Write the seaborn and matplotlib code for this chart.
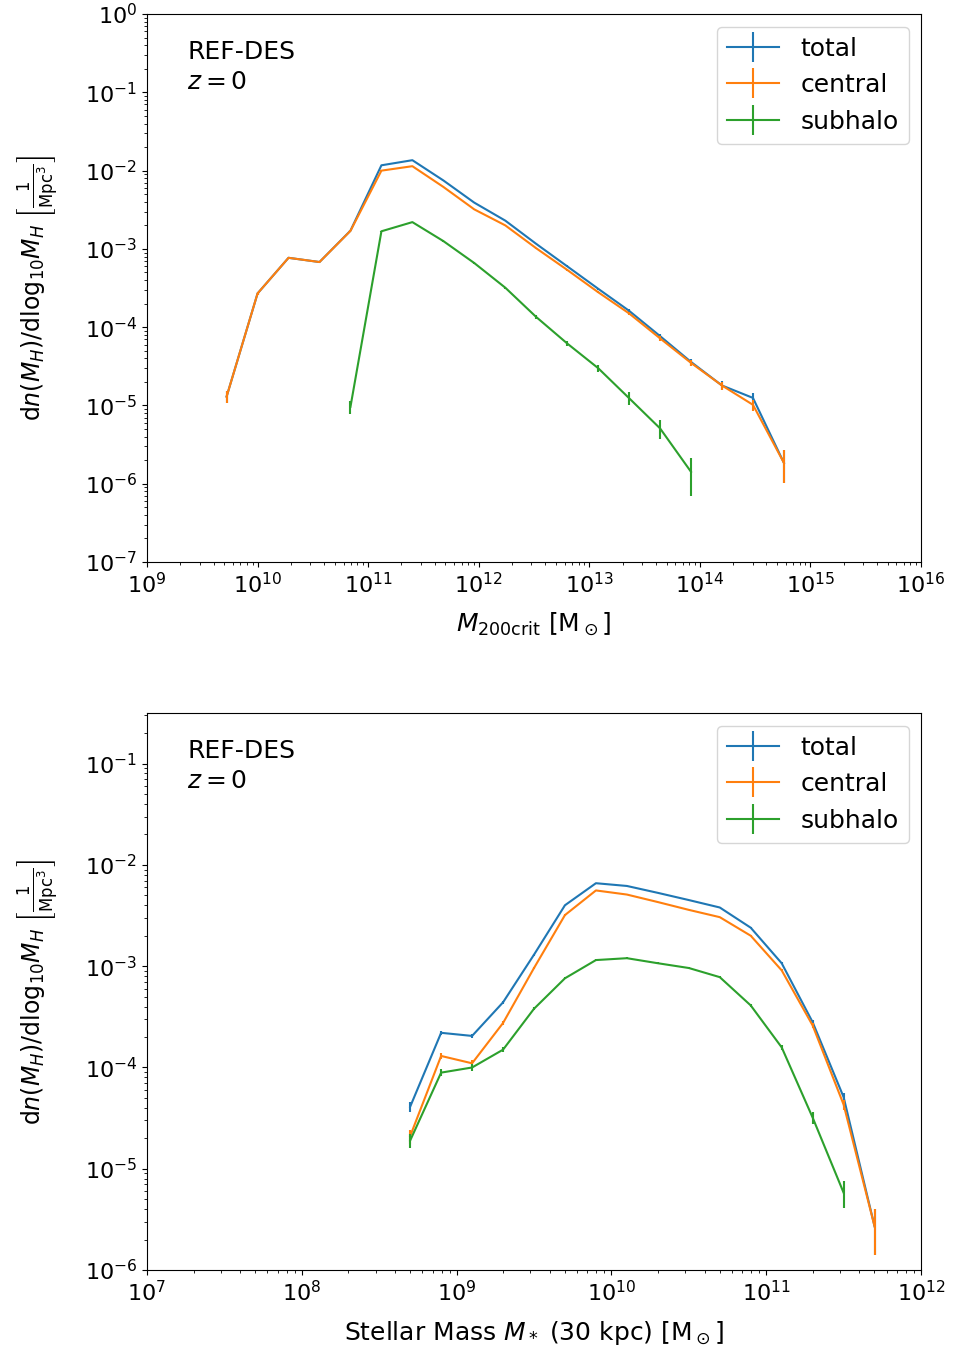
import numpy as np
import pandas as pd
import matplotlib
matplotlib.use("Agg")
import matplotlib.pyplot as plt
from matplotlib.lines import Line2D
import seaborn as sns

# ---- halo mass function (top panel) ----
halo_logm = [9.72, 10.00, 10.28, 10.56, 10.84, 11.12, 11.40, 11.68, 11.96, 12.24,
             12.52, 12.80, 13.08, 13.36, 13.64, 13.92, 14.20, 14.48, 14.76]
halo_total = [1.3e-5, 2.7e-4, 7.7e-4, 6.8e-4, 1.71e-3, 1.17e-2, 1.36e-2, 7.5e-3, 3.9e-3, 2.3e-3,
              1.16e-3, 6.0e-4, 3.1e-4, 1.62e-4, 7.7e-5, 3.6e-5, 1.8e-5, 1.25e-5, 1.85e-6]
halo_total_err = [2.2e-6, 1.0e-5, 1.7e-5, 1.6e-5, 2.5e-5, 6.6e-5, 7.1e-5, 5.3e-5, 3.8e-5, 2.9e-5,
                  2.1e-5, 1.5e-5, 1.1e-5, 7.8e-6, 5.3e-6, 3.7e-6, 2.4e-6, 2.0e-6, 8.3e-7]
halo_central = [1.3e-5, 2.7e-4, 7.7e-4, 6.8e-4, 1.7e-3, 1.0e-2, 1.14e-2, 6.2e-3, 3.2e-3, 2.0e-3,
                1.02e-3, 5.4e-4, 2.8e-4, 1.5e-4, 7.2e-5, 3.5e-5, 1.8e-5, 1.02e-5, 1.85e-6]
halo_central_err = [2.2e-6, 1.0e-5, 1.7e-5, 1.6e-5, 2.5e-5, 6.1e-5, 6.5e-5, 4.8e-5, 3.4e-5, 2.7e-5,
                    1.9e-5, 1.4e-5, 1.0e-5, 7.5e-6, 5.2e-6, 3.4e-6, 2.2e-6, 1.6e-6, 8.3e-7]
halo_sub_logm = [10.84, 11.12, 11.40, 11.68, 11.96, 12.24, 12.52, 12.80, 13.08, 13.36, 13.64, 13.92]
halo_sub = [9.6e-6, 1.68e-3, 2.2e-3, 1.26e-3, 6.6e-4, 3.2e-4, 1.35e-4, 6.2e-5, 3.0e-5, 1.24e-5,
            5.1e-6, 1.42e-6]
halo_sub_err = [1.9e-6, 2.5e-5, 2.9e-5, 2.2e-5, 1.6e-5, 1.1e-5, 7.1e-6, 4.8e-6, 3.3e-6, 2.3e-6,
                1.4e-6, 7.3e-7]

# ---- stellar mass function (bottom panel) ----
star_logm = [8.7, 8.9, 9.1, 9.3, 9.5, 9.7, 9.9, 10.1, 10.3, 10.5, 10.7, 10.9, 11.1, 11.3, 11.5, 11.7]
star_total = [4.1e-5, 2.2e-4, 2.05e-4, 4.4e-4, 1.3e-3, 4.0e-3, 6.6e-3, 6.2e-3, 5.3e-3, 4.5e-3,
              3.8e-3, 2.4e-3, 1.07e-3, 2.8e-4, 5.1e-5, 2.7e-6]
star_total_err = [4.6e-6, 1.07e-5, 1.03e-5, 1.5e-5, 2.6e-5, 4.6e-5, 5.8e-5, 5.7e-5, 5.2e-5, 4.8e-5,
                  4.4e-5, 3.5e-5, 2.4e-5, 1.2e-5, 5.1e-6, 1.3e-6]
star_central = [2.1e-5, 1.3e-4, 1.1e-4, 2.75e-4, 9.6e-4, 3.2e-3, 5.6e-3, 5.1e-3, 4.3e-3, 3.6e-3,
                3.05e-3, 2.0e-3, 9.1e-4, 2.6e-4, 4.3e-5, 2.7e-6]
star_central_err = [3.3e-6, 8.2e-6, 7.6e-6, 1.2e-5, 2.2e-5, 4.1e-5, 5.4e-5, 5.1e-5, 4.7e-5, 4.3e-5,
                    4.0e-5, 3.2e-5, 2.2e-5, 1.2e-5, 4.7e-6, 1.3e-6]
star_sub_logm = [8.7, 8.9, 9.1, 9.3, 9.5, 9.7, 9.9, 10.1, 10.3, 10.5, 10.7, 10.9, 11.1, 11.3, 11.5]
star_sub = [1.9e-5, 8.9e-5, 1.0e-4, 1.5e-4, 3.8e-4, 7.6e-4, 1.15e-3, 1.2e-3, 1.07e-3, 9.6e-4,
            7.8e-4, 4.1e-4, 1.58e-4, 3.2e-5, 5.8e-6]
star_sub_err = [3.1e-6, 6.8e-6, 7.2e-6, 8.8e-6, 1.4e-5, 2.0e-5, 2.4e-5, 2.5e-5, 2.4e-5, 2.2e-5,
                2.0e-5, 1.5e-5, 9.1e-6, 4.1e-6, 1.7e-6]

labels = ["total", "central", "subhalo"]
colors = sns.color_palette("tab10", 3)

plt.rcParams["font.family"] = ["DejaVu Sans"]
plt.rcParams["font.size"] = 16
plt.rcParams["mathtext.fontset"] = "dejavusans"

LABEL_SIZE = 18

fig = plt.figure(figsize=(9.57, 13.54), dpi=100)
ax_top = fig.add_axes([0.1536, 0.5849, 0.8088, 0.4047])
ax_bot = fig.add_axes([0.1536, 0.0620, 0.8088, 0.4114])


def draw_series(ax, logm, vals, errs, color):
    df = pd.DataFrame({"mass": 10.0 ** np.asarray(logm), "phi": vals, "err": errs})
    sns.lineplot(data=df, x="mass", y="phi", ax=ax, color=color, linewidth=1.5,
                 estimator=None, sort=False, legend=False)
    ax.errorbar(df["mass"], df["phi"], yerr=df["err"], fmt="none",
                ecolor=color, elinewidth=1.5)


def finish_axes(ax, xlim, ylim, xlabel):
    ax.set_xscale("log")
    ax.set_yscale("log")
    ax.set_xlim(*xlim)
    ax.set_ylim(*ylim)
    ax.tick_params(labelsize=16)
    ax.set_xlabel(xlabel, fontsize=LABEL_SIZE, labelpad=10)
    ax.set_ylabel(r"d$n(M_H)$/dlog$_{10}M_H$ $\left[\frac{1}{\mathrm{Mpc}^3}\right]$",
                  fontsize=17, labelpad=18)
    ax.text(0.052, 0.953, "REF-DES\n$z = 0$", transform=ax.transAxes,
            ha="left", va="top", fontsize=LABEL_SIZE, linespacing=1.3)
    handles = [Line2D([], [], color=c, linewidth=1.5, marker="|", markersize=22,
                      markeredgewidth=1.5) for c in colors]
    ax.legend(handles, labels, loc="upper right", fontsize=LABEL_SIZE,
              handlelength=2.1, handletextpad=0.85, labelspacing=0.5)


top_sets = [(halo_logm, halo_total, halo_total_err),
            (halo_logm, halo_central, halo_central_err),
            (halo_sub_logm, halo_sub, halo_sub_err)]
for (lm, v, e), c in zip(top_sets, colors):
    draw_series(ax_top, lm, v, e, c)
finish_axes(ax_top, (1e9, 1e16), (1e-7, 1e0), r"$M_{200\mathrm{crit}}$ [M$_\odot$]")

bot_sets = [(star_logm, star_total, star_total_err),
            (star_logm, star_central, star_central_err),
            (star_sub_logm, star_sub, star_sub_err)]
for (lm, v, e), c in zip(bot_sets, colors):
    draw_series(ax_bot, lm, v, e, c)
finish_axes(ax_bot, (1e7, 1e12), (1e-6, 10 ** -0.5),
            r"Stellar Mass $M_*$ (30 kpc) [M$_\odot$]")

fig.savefig("out.png", dpi=100)
